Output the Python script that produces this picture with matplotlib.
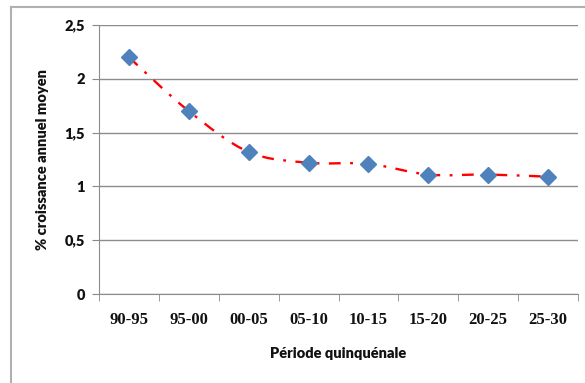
import matplotlib
matplotlib.use('Agg')
from matplotlib import pyplot as plt
from matplotlib.path import Path
from matplotlib.patches import PathPatch
from matplotlib.lines import Line2D
import numpy as np

periodes = ['90-95', '95-00', '00-05', '05-10', '10-15', '15-20', '20-25', '25-30']
croissance = [2.2, 1.7, 1.32, 1.22, 1.21, 1.11, 1.11, 1.09]
y_ticks = [0, 0.5, 1, 1.5, 2, 2.5]
y_labels = ['0', '0,5', '1', '1,5', '2', '2,5']

W, H = 585, 383
fig = plt.figure(figsize=(W / 100, H / 100), dpi=100)
ax = fig.add_axes([99 / W, 1 - 294 / H, 479 / W, 269 / H])

x = np.arange(len(periodes))

# smoothed curve (bezier segments, catmull-rom style) through the points
pts = np.column_stack([x, croissance])
verts = [tuple(pts[0])]
codes = [Path.MOVETO]
t = 1 / 6
for i in range(len(pts) - 1):
    p0 = pts[i - 1] if i > 0 else pts[i]
    p1 = pts[i]
    p2 = pts[i + 1]
    p3 = pts[i + 2] if i + 2 < len(pts) else pts[i + 1]
    c1 = p1 + (p2 - p0) * t
    c2 = p2 - (p3 - p1) * t
    verts += [tuple(c1), tuple(c2), tuple(p2)]
    codes += [Path.CURVE4] * 3
curve = PathPatch(Path(verts, codes), facecolor='none', edgecolor='#ff0000',
                  lw=1.7, linestyle=(0, (5, 4, 1.2, 4)), zorder=3)
ax.add_patch(curve)

ax.plot(x, croissance, linestyle='none', marker='D', markersize=8.5,
        color='#4f81bd', zorder=4)

ax.set_xlim(-0.5, len(periodes) - 0.5)
ax.set_ylim(0, 2.5)
ax.set_yticks(y_ticks)
ax.set_yticklabels(y_labels, fontsize=10.5, fontweight='heavy',
                   family='Lato', color='#111111')
ax.set_xticks(x)
ax.set_xticklabels(periodes, fontsize=12, fontweight='bold',
                   family='Liberation Serif', color='#111111')
ax.set_xticks(np.arange(len(periodes) + 1) - 0.5, minor=True)
ax.tick_params(axis='x', which='major', length=0, pad=13)
ax.tick_params(axis='x', which='minor', length=5, color='#888888')
ax.tick_params(axis='y', length=5, color='#888888', pad=5)

ax.yaxis.grid(True, color='#8c8c8c', lw=1)
ax.set_axisbelow(True)
for s in ['top', 'right']:
    ax.spines[s].set_visible(False)
for s in ['left', 'bottom']:
    ax.spines[s].set_color('#8c8c8c')

fig.text(338 / W, 1 - 354 / H, 'Période quinquénale', ha='center', va='center',
         fontsize=10.5, fontweight='heavy', family='Lato', color='#111111')
fig.text(43 / W, 1 - 160 / H, '% croissance annuel moyen', ha='center', va='center',
         rotation=90, fontsize=10.5, fontweight='heavy', family='Lato',
         color='#111111')

# chart frame
fig.add_artist(Line2D([10.5 / W, 10.5 / W], [0, 1 - 6.5 / H], transform=fig.transFigure,
                      color='#b0b0b0', lw=1.5))
fig.add_artist(Line2D([10.5 / W, 1], [1 - 6.5 / H, 1 - 6.5 / H], transform=fig.transFigure,
                      color='#b0b0b0', lw=1.5))

fig.savefig('out.png', dpi=100)
